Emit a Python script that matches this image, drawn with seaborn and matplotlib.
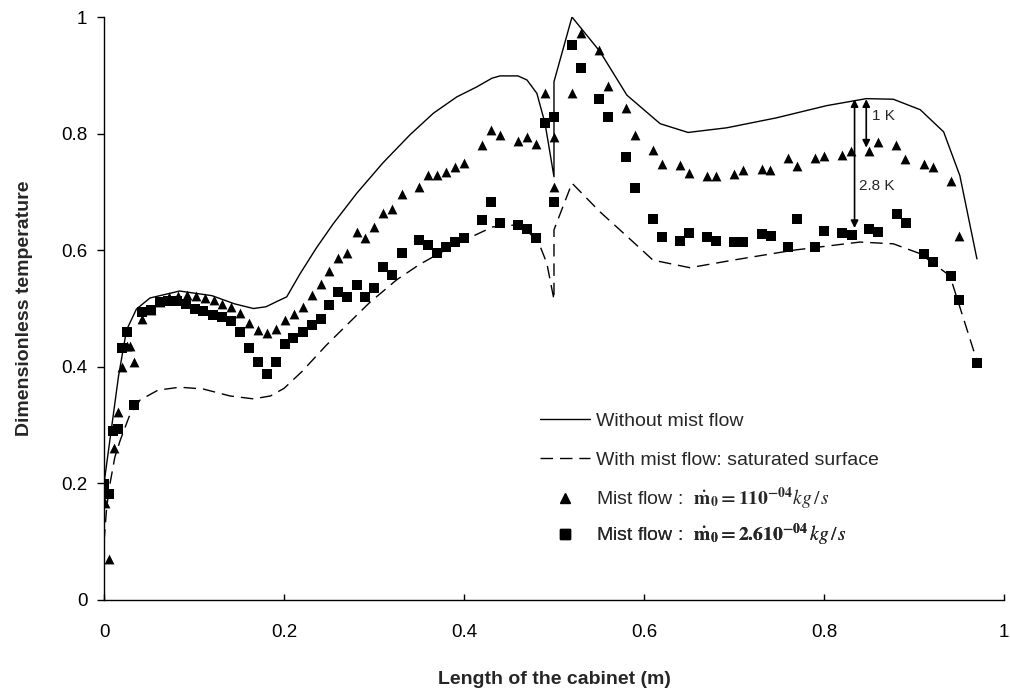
import numpy as np
import pandas as pd
import matplotlib
matplotlib.use("Agg")
import matplotlib.pyplot as plt
from matplotlib.lines import Line2D
import seaborn as sns

# Simulated profiles along the cabinet
x_dry = [0.0, 0.0085, 0.016, 0.025, 0.036, 0.051, 0.084, 0.12, 0.145, 0.166, 0.18, 0.192,
         0.203, 0.218, 0.236, 0.255, 0.281, 0.31, 0.34, 0.366, 0.392, 0.414, 0.431, 0.44,
         0.46, 0.47, 0.481, 0.49, 0.5, 0.5, 0.52, 0.551, 0.581, 0.618, 0.649, 0.692, 0.747,
         0.803, 0.847, 0.877, 0.907, 0.933, 0.951, 0.97]
y_dry = [0.2, 0.297, 0.383, 0.463, 0.499, 0.518, 0.53, 0.522, 0.508, 0.5, 0.503, 0.512,
         0.52, 0.56, 0.604, 0.646, 0.698, 0.75, 0.798, 0.835, 0.863, 0.88, 0.895, 0.899,
         0.899, 0.892, 0.869, 0.818, 0.726, 0.889, 1.0, 0.941, 0.866, 0.817, 0.802, 0.81,
         0.827, 0.848, 0.86, 0.859, 0.841, 0.803, 0.728, 0.585]

x_wet = [0.0, 0.003, 0.0067, 0.012, 0.018, 0.028, 0.04, 0.06, 0.084, 0.11, 0.14, 0.166,
         0.185, 0.2, 0.22, 0.247, 0.266, 0.295, 0.325, 0.35, 0.373, 0.4, 0.432, 0.455,
         0.468, 0.477, 0.485, 0.492, 0.5, 0.5, 0.52, 0.551, 0.581, 0.61, 0.651, 0.699,
         0.766, 0.84, 0.877, 0.907, 0.94, 0.97]
y_wet = [0.1, 0.16, 0.2, 0.245, 0.274, 0.315, 0.343, 0.36, 0.365, 0.362, 0.35, 0.345,
         0.35, 0.363, 0.392, 0.437, 0.466, 0.51, 0.549, 0.575, 0.595, 0.617, 0.64, 0.643,
         0.636, 0.623, 0.605, 0.578, 0.515, 0.635, 0.715, 0.666, 0.624, 0.583, 0.57, 0.583,
         0.6, 0.614, 0.611, 0.594, 0.556, 0.41]

# Measured points, mist flow 1e-04 kg/s
x_tri = [0.001, 0.006, 0.011, 0.016, 0.020, 0.025, 0.029, 0.033, 0.042, 0.052, 0.062,
         0.072, 0.082, 0.092, 0.102, 0.112, 0.122, 0.131, 0.141, 0.151, 0.161, 0.171,
         0.181, 0.191, 0.201, 0.211, 0.221, 0.231, 0.241, 0.25, 0.26, 0.27, 0.281, 0.29,
         0.30, 0.31, 0.32, 0.331, 0.35, 0.36, 0.37, 0.38, 0.39, 0.40, 0.42, 0.43, 0.44,
         0.46, 0.47, 0.48, 0.49, 0.50, 0.50, 0.52, 0.53, 0.55, 0.56, 0.58, 0.59, 0.61,
         0.62, 0.64, 0.65, 0.67, 0.68, 0.70, 0.71, 0.731, 0.74, 0.76, 0.77, 0.79, 0.80,
         0.82, 0.83, 0.85, 0.86, 0.88, 0.89, 0.911, 0.921, 0.941, 0.95]
y_tri = [0.166, 0.07, 0.26, 0.322, 0.399, 0.435, 0.435, 0.408, 0.482, 0.497, 0.512,
         0.52, 0.522, 0.523, 0.521, 0.518, 0.514, 0.508, 0.502, 0.492, 0.476, 0.463,
         0.458, 0.465, 0.48, 0.49, 0.503, 0.523, 0.542, 0.565, 0.586, 0.596, 0.632, 0.621,
         0.639, 0.664, 0.67, 0.696, 0.708, 0.729, 0.729, 0.734, 0.742, 0.749, 0.78, 0.806,
         0.798, 0.788, 0.795, 0.782, 0.869, 0.795, 0.709, 0.869, 0.973, 0.943, 0.881,
         0.844, 0.797, 0.772, 0.748, 0.747, 0.732, 0.728, 0.728, 0.731, 0.738, 0.74,
         0.738, 0.759, 0.745, 0.759, 0.761, 0.764, 0.77, 0.77, 0.786, 0.781, 0.757,
         0.748, 0.743, 0.719, 0.624]

# Measured points, mist flow 2.6e-04 kg/s
x_sq = [0.0, 0.006, 0.010, 0.016, 0.020, 0.026, 0.033, 0.042, 0.052, 0.062, 0.071,
        0.081, 0.091, 0.101, 0.110, 0.121, 0.131, 0.141, 0.151, 0.161, 0.171, 0.181,
        0.191, 0.201, 0.21, 0.221, 0.231, 0.241, 0.25, 0.26, 0.27, 0.281, 0.29, 0.30,
        0.31, 0.32, 0.331, 0.35, 0.36, 0.37, 0.38, 0.39, 0.40, 0.42, 0.43, 0.44, 0.46,
        0.47, 0.48, 0.49, 0.50, 0.50, 0.52, 0.53, 0.55, 0.56, 0.58, 0.59, 0.61, 0.62,
        0.64, 0.65, 0.67, 0.68, 0.70, 0.71, 0.731, 0.741, 0.76, 0.77, 0.79, 0.80, 0.82,
        0.831, 0.85, 0.86, 0.881, 0.891, 0.911, 0.921, 0.941, 0.95, 0.97]
y_sq = [0.199, 0.182, 0.29, 0.294, 0.433, 0.459, 0.334, 0.494, 0.497, 0.512, 0.513,
        0.513, 0.508, 0.499, 0.495, 0.489, 0.486, 0.479, 0.459, 0.433, 0.408, 0.388,
        0.408, 0.439, 0.449, 0.459, 0.471, 0.482, 0.506, 0.528, 0.52, 0.54, 0.52, 0.536,
        0.571, 0.557, 0.596, 0.617, 0.609, 0.596, 0.605, 0.614, 0.621, 0.652, 0.682,
        0.646, 0.643, 0.636, 0.621, 0.819, 0.829, 0.682, 0.952, 0.913, 0.859, 0.828,
        0.76, 0.707, 0.653, 0.623, 0.615, 0.63, 0.623, 0.616, 0.614, 0.614, 0.628,
        0.624, 0.605, 0.653, 0.605, 0.633, 0.629, 0.626, 0.636, 0.631, 0.662, 0.646,
        0.593, 0.579, 0.555, 0.515, 0.407]

x_ticks = [0, 0.2, 0.4, 0.6, 0.8, 1]
y_ticks = [0, 0.2, 0.4, 0.6, 0.8, 1]
x_tick_labels = ["0", "0.2", "0.4", "0.6", "0.8", "1"]
y_tick_labels = ["0", "0.2", "0.4", "0.6", "0.8", "1"]

legend_labels = [
    "Without mist flow",
    "With mist flow: saturated surface",
    r"Mist flow :  $\mathbf{\dot{m}_0 = 110^{-04}}\mathit{kg\,/\,s}$",
    r"Mist flow :  $\mathbf{\dot{m}_0 = 2.610^{-04}}\,\mathit{kg\,/\,s}$",
]

sns.set_theme(style="white")
plt.rcParams["font.family"] = ["Liberation Sans", "DejaVu Sans"]
plt.rcParams["mathtext.fontset"] = "stix"

fig = plt.figure(figsize=(10.10, 6.95), dpi=100)
ax = fig.add_axes([0.103, 0.1367, 0.891, 0.8388])

sns.lineplot(x=x_dry, y=y_dry, sort=False, estimator=None, color="black",
             linewidth=1.0, ax=ax)
sns.lineplot(x=x_wet, y=y_wet, sort=False, estimator=None, color="black",
             linewidth=1.0, ax=ax)
ax.lines[1].set_dashes([9, 5])

sns.scatterplot(x=x_tri, y=y_tri, marker="^", s=50, color="black",
                edgecolor="black", linewidth=0, ax=ax)
sns.scatterplot(x=x_sq, y=y_sq, marker="s", s=46, color="black",
                edgecolor="black", linewidth=0, ax=ax)

# Temperature differences at the hot spot
ax.annotate("", xy=(0.834, 0.638), xytext=(0.834, 0.859),
            arrowprops=dict(arrowstyle="<|-|>", color="black", lw=1.2,
                            mutation_scale=11, shrinkA=0, shrinkB=0))
ax.annotate("", xy=(0.847, 0.776), xytext=(0.847, 0.859),
            arrowprops=dict(arrowstyle="<|-|>", color="black", lw=1.2,
                            mutation_scale=11, shrinkA=0, shrinkB=0))
ax.text(0.853, 0.83, "1 K", fontsize=11, va="center", ha="left")
ax.text(0.839, 0.71, "2.8 K", fontsize=11, va="center", ha="left")

ax.set_xlim(0, 1)
ax.set_ylim(0, 1)
ax.set_xticks(x_ticks)
ax.set_xticklabels(x_tick_labels)
ax.set_yticks(y_ticks)
ax.set_yticklabels(y_tick_labels)
ax.tick_params(axis="x", direction="in", length=4, width=1, pad=17,
               labelsize=13.5, colors="black", bottom=True)
ax.tick_params(axis="y", direction="out", length=5, width=1, pad=7,
               labelsize=13.5, colors="black", left=True)
for side in ["top", "right"]:
    ax.spines[side].set_visible(False)
for side in ["left", "bottom"]:
    ax.spines[side].set_color("black")
    ax.spines[side].set_linewidth(1.0)

ax.set_xlabel("Length of the cabinet (m)", fontsize=14, fontweight="bold", labelpad=22)
ax.set_ylabel("Dimensionless temperature", fontsize=14, fontweight="bold", labelpad=20)

handles = [
    Line2D([], [], color="black", lw=1.0),
    Line2D([], [], color="black", lw=1.0, dashes=[9, 5]),
    Line2D([], [], color="black", lw=0, marker="^", markersize=7),
    Line2D([], [], color="black", lw=0, marker="s", markersize=6.5),
]
# one row per legend so every entry sits at its own height
row_y = [0.3075, 0.240, 0.173, 0.1115]
for h, lab, yy in zip(handles, legend_labels, row_y):
    leg = ax.legend([h], [lab], loc="center left", bbox_to_anchor=(0.484, yy),
                    frameon=False, fontsize=14, handlelength=2.6,
                    handletextpad=0.3, borderaxespad=0, borderpad=0)
    ax.add_artist(leg)

fig.savefig("out.png", dpi=100)
